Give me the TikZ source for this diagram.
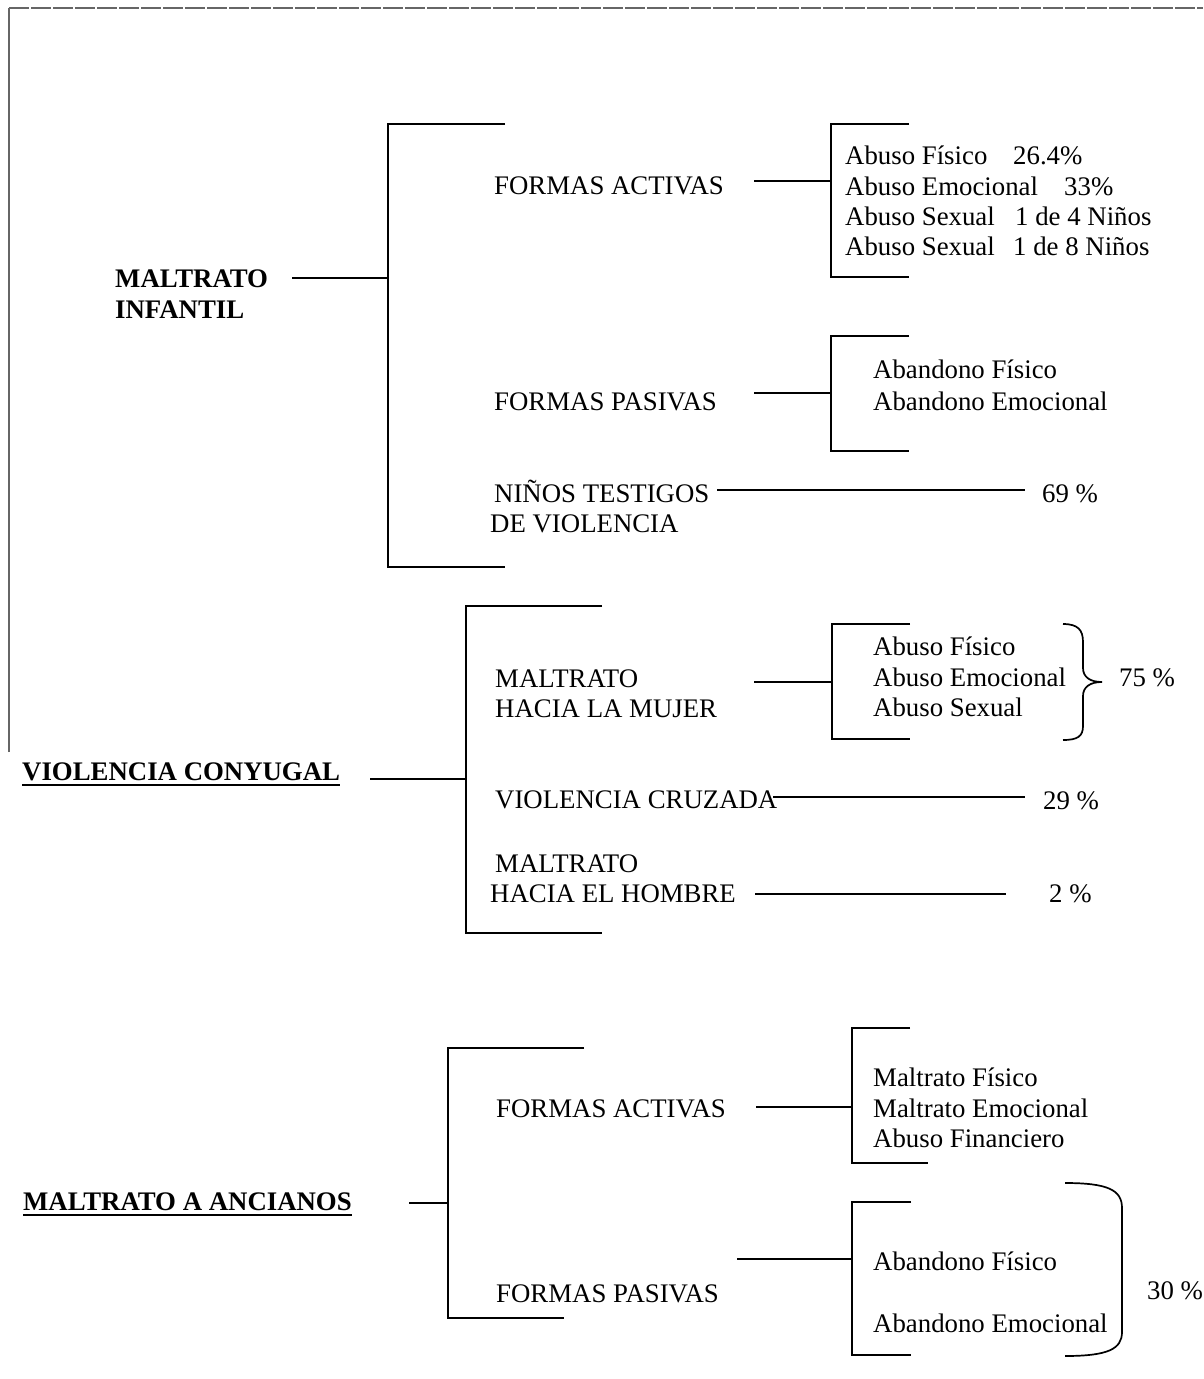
\documentclass[tikz,border=0pt]{standalone}
\usepackage{fontspec}
\setmainfont{Liberation Serif}
\begin{document}
\begin{tikzpicture}[x=1pt,y=-1pt]
\tikzset{
  txt/.style={anchor=base west, inner sep=0pt, font=\fontsize{26.8}{30}\selectfont},
  head/.style={anchor=base west, inner sep=0pt, font=\fontsize{26.8}{30}\selectfont\bfseries},
  ln/.style={line width=1.7pt, line cap=butt},
  frame/.style={line width=1.2pt, draw=black!60},
  uline/.style={line width=1.7pt},
}
\fill[white] (0,0) rectangle (1203,1379);
\useasboundingbox (0,0) rectangle (1203,1379);

% page frame
\coordinate (fA) at (9,752);
\coordinate (fB) at (9,8);
\coordinate (fC) at (1203,8);
\draw[frame] (fA) -- (fB);
\draw[frame, dash pattern=on 20pt off 2pt] (fB) -- (fC);

% ================= MALTRATO INFANTIL =================
\node[head] (mi1) at (115,287) {MALTRATO};
\node[head] (mi2) at (115,318) {INFANTIL};
\coordinate (mi-s) at (292,278);
\coordinate (B1t) at (505,124); \coordinate (B1tl) at (388,124);
\coordinate (B1bl) at (388,567); \coordinate (B1b) at (505,567);
\coordinate (B1m) at (388,278);
\draw[ln] (mi-s) -- (B1m);
\draw[ln] (B1t) -- (B1tl) -- (B1bl) -- (B1b);

\node[txt] (fa1) at (494,194) {FORMAS ACTIVAS};
\coordinate (fa1-s) at (754,181); \coordinate (fa1-e) at (831,181);
\draw[ln] (fa1-s) -- (fa1-e);
\coordinate (C1t) at (909,124); \coordinate (C1tl) at (831,124);
\coordinate (C1bl) at (831,277); \coordinate (C1b) at (909,277);
\draw[ln] (C1t) -- (C1tl) -- (C1bl) -- (C1b);
\node[txt] (a1) at (845,164) {Abuso Físico};
\node[txt] (a2) at (845,195) {Abuso Emocional};
\node[txt] (a3) at (845,225) {Abuso Sexual};
\node[txt] (a4) at (845,255) {Abuso Sexual};
\node[txt] (v1) at (1013,164) {26.4\%};
\node[txt] (v2) at (1064,195) {33\%};
\node[txt] (v3) at (1015,225) {1 de 4 Niños};
\node[txt] (v4) at (1013,255) {1 de 8 Niños};

\node[txt] (fp1) at (494,410) {FORMAS PASIVAS};
\coordinate (fp1-s) at (754,393); \coordinate (fp1-e) at (831,393);
\draw[ln] (fp1-s) -- (fp1-e);
\coordinate (C2t) at (909,336); \coordinate (C2tl) at (831,336);
\coordinate (C2bl) at (831,451); \coordinate (C2b) at (909,451);
\draw[ln] (C2t) -- (C2tl) -- (C2bl) -- (C2b);
\node[txt] (ab1) at (873,378) {Abandono Físico};
\node[txt] (ab2) at (873,410) {Abandono Emocional};

\node[txt] (nt1) at (494,502) {NIÑOS TESTIGOS};
\node[txt] (nt2) at (490,532) {DE VIOLENCIA};
\node[txt] (p69) at (1042,502) {69 \%};
\coordinate (nt-s) at (717,490); \coordinate (nt-e) at (1025,490);
\draw[ln] (nt-s) -- (nt-e);

% ================= VIOLENCIA CONYUGAL =================
\node[head] (vc) at (22,780) {VIOLENCIA CONYUGAL};
\draw[uline] ([yshift=-5pt]vc.base west) -- ([yshift=-5pt]vc.base east);
\coordinate (vc-s) at (370,779);
\coordinate (B2t) at (602,606); \coordinate (B2tl) at (466,606);
\coordinate (B2bl) at (466,933); \coordinate (B2b) at (602,933);
\coordinate (B2m) at (466,779);
\draw[ln] (vc-s) -- (B2m);
\draw[ln] (B2t) -- (B2tl) -- (B2bl) -- (B2b);

\node[txt] (mm1) at (495,687) {MALTRATO};
\node[txt] (mm2) at (495,717) {HACIA LA MUJER};
\coordinate (mm-s) at (754,682); \coordinate (mm-e) at (832,682);
\draw[ln] (mm-s) -- (mm-e);
\coordinate (C3t) at (910,624); \coordinate (C3tl) at (832,624);
\coordinate (C3bl) at (832,739); \coordinate (C3b) at (910,739);
\draw[ln] (C3t) -- (C3tl) -- (C3bl) -- (C3b);
\node[txt] (m1) at (873,655) {Abuso Físico};
\node[txt] (m2) at (873,686) {Abuso Emocional};
\node[txt] (m3) at (873,716) {Abuso Sexual};
\coordinate (br1t) at (1063,624); \coordinate (br1tip) at (1102,682); \coordinate (br1b) at (1063,740);
\draw[ln] (br1t) .. controls (1078,624) and (1083,630) .. (1083,642) -- (1083,668)
  .. controls (1083,677) and (1090,682) .. (br1tip)
  .. controls (1090,682) and (1083,687) .. (1083,696) -- (1083,726)
  .. controls (1083,736) and (1078,740) .. (br1b);
\node[txt] (p75) at (1119,686) {75 \%};

\node[txt] (vcz) at (495,808) {VIOLENCIA CRUZADA};
\coordinate (vcz-s) at (773,797); \coordinate (vcz-e) at (1025,797);
\draw[ln] (vcz-s) -- (vcz-e);
\node[txt] (p29) at (1043,809) {29 \%};

\node[txt] (mh1) at (495,872) {MALTRATO};
\node[txt] (mh2) at (490,902) {HACIA EL HOMBRE};
\coordinate (mh-s) at (755,894); \coordinate (mh-e) at (1006,894);
\draw[ln] (mh-s) -- (mh-e);
\node[txt] (p2) at (1049,902) {2 \%};

% ================= MALTRATO A ANCIANOS =================
\node[head] (ma) at (23,1210) {MALTRATO A ANCIANOS};
\draw[uline] ([yshift=-5pt]ma.base west) -- ([yshift=-5pt]ma.base east);
\coordinate (ma-s) at (409,1203);
\coordinate (B3t) at (584,1048); \coordinate (B3tl) at (448,1048);
\coordinate (B3bl) at (448,1318); \coordinate (B3b) at (564,1318);
\coordinate (B3m) at (448,1203);
\draw[ln] (ma-s) -- (B3m);
\draw[ln] (B3t) -- (B3tl) -- (B3bl) -- (B3b);

\node[txt] (fa3) at (496,1117) {FORMAS ACTIVAS};
\coordinate (fa3-s) at (756,1107); \coordinate (fa3-e) at (852,1107);
\draw[ln] (fa3-s) -- (fa3-e);
\coordinate (C4t) at (910,1028); \coordinate (C4tl) at (852,1028);
\coordinate (C4bl) at (852,1163); \coordinate (C4b) at (928,1163);
\draw[ln] (C4t) -- (C4tl) -- (C4bl) -- (C4b);
\node[txt] (e1) at (873,1086) {Maltrato Físico};
\node[txt] (e2) at (873,1117) {Maltrato Emocional};
\node[txt] (e3) at (873,1147) {Abuso Financiero};

\node[txt] (fp3) at (496,1302) {FORMAS PASIVAS};
\coordinate (fp3-s) at (737,1259); \coordinate (fp3-e) at (852,1259);
\draw[ln] (fp3-s) -- (fp3-e);
\coordinate (C5t) at (911,1202); \coordinate (C5tl) at (852,1202);
\coordinate (C5bl) at (852,1355); \coordinate (C5b) at (911,1355);
\draw[ln] (C5t) -- (C5tl) -- (C5bl) -- (C5b);
\node[txt] (f1) at (873,1270) {Abandono Físico};
\node[txt] (f2) at (873,1332) {Abandono Emocional};
\coordinate (br2t) at (1065,1183); \coordinate (br2b) at (1065,1356);
\draw[ln] (br2t) .. controls (1108,1183) and (1122,1190) .. (1122,1208) -- (1122,1332)
  .. controls (1122,1349) and (1108,1356) .. (br2b);
\node[txt] (p30) at (1147,1299) {30 \%};
\end{tikzpicture}
\end{document}
